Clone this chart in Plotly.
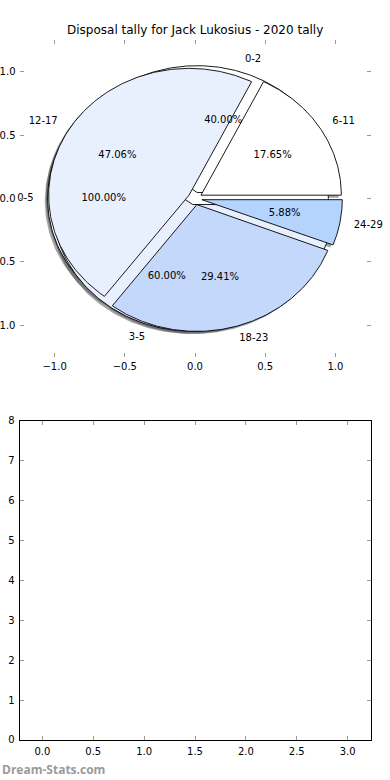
import numpy as np
import plotly.graph_objects as go

# ---------------- data ----------------
chart_title = "Disposal tally for Jack Lukosius - 2020 tally"

# three pie layers, drawn bottom to top
layer1_labels = ["0-5"]
layer1_values = [5]
layer1_colors = ["#ffffff"]

layer2_labels = ["0-2", "3-5"]
layer2_values = [2, 3]
layer2_colors = ["#ffffff", "#e9f0fd"]

layer3_labels = ["6-11", "12-17", "18-23", "24-29"]
layer3_values = [3, 8, 5, 1]
layer3_colors = ["#ffffff", "#e9f0fd", "#c4d8fc", "#b4d4fe"]

pie_ticks = [-1.0, -0.5, 0.0, 0.5, 1.0]
bar_xticks = [0.0, 0.5, 1.0, 1.5, 2.0, 2.5, 3.0]
bar_yticks = [0, 1, 2, 3, 4, 5, 6, 7, 8]
watermark = "Dream-Stats.com"

# ---------------- style ----------------
EXPLODE = 0.05
SHADOW_OFF = -0.02
FONT = "DejaVu Sans"

layers = [
    (layer1_labels, layer1_values, layer1_colors),
    (layer2_labels, layer2_values, layer2_colors),
    (layer3_labels, layer3_values, layer3_colors),
]


def wedge_geometry(values):
    total = float(sum(values))
    start = 0.0
    out = []
    for v in values:
        frac = v / total
        t1, t2 = start, start + 360.0 * frac
        mid = np.deg2rad((t1 + t2) / 2)
        cx, cy = EXPLODE * np.cos(mid), EXPLODE * np.sin(mid)
        arc = np.deg2rad(np.linspace(t1, t2, 240))
        xs = list(cx + np.cos(arc))
        ys = list(cy + np.sin(arc))
        if frac < 0.9999:
            xs = [cx] + xs + [cx]
            ys = [cy] + ys + [cy]
        out.append(dict(xs=xs, ys=ys, cx=cx, cy=cy, mid=mid, frac=frac))
        start = t2
    return out


def shadow_color(hexcol):
    h = hexcol.lstrip("#")
    r, g, b = (int(h[i:i + 2], 16) for i in (0, 2, 4))
    return "rgba(%d,%d,%d,0.5)" % (r * 0.3, g * 0.3, b * 0.3)


fig = go.Figure()

geoms = [wedge_geometry(vals) for _, vals, _ in layers]

# shadows beneath every wedge
for (labels, vals, cols), geo in zip(layers, geoms):
    for g, c in zip(geo, cols):
        fig.add_trace(go.Scatter(
            x=[x + SHADOW_OFF for x in g["xs"]], y=[y + SHADOW_OFF for y in g["ys"]],
            mode="lines", fill="toself", fillcolor=shadow_color(c),
            line=dict(width=0), hoverinfo="skip", showlegend=False,
            xaxis="x", yaxis="y"))

# wedges
for (labels, vals, cols), geo in zip(layers, geoms):
    for g, c, lab in zip(geo, cols, labels):
        fig.add_trace(go.Scatter(
            x=g["xs"], y=g["ys"], mode="lines", fill="toself", fillcolor=c,
            line=dict(color="black", width=0.9), name=lab,
            hoverinfo="name", showlegend=False, xaxis="x", yaxis="y"))

# texts
for (labels, vals, cols), geo in zip(layers, geoms):
    lx, ly, lpos, px, py, ptxt = [], [], [], [], [], []
    for g, lab in zip(geo, labels):
        x = g["cx"] + 1.1 * np.cos(g["mid"])
        y = g["cy"] + 1.1 * np.sin(g["mid"])
        lx.append(x)
        ly.append(y)
        lpos.append("middle right" if x > 0 else "middle left")
        px.append(g["cx"] + 0.6 * np.cos(g["mid"]))
        py.append(g["cy"] + 0.6 * np.sin(g["mid"]))
        ptxt.append("%.2f%%" % (g["frac"] * 100))
    fig.add_trace(go.Scatter(
        x=lx, y=ly, mode="text", text=labels, textposition=lpos,
        textfont=dict(family=FONT, size=10, color="black"), cliponaxis=False,
        hoverinfo="skip", showlegend=False, xaxis="x", yaxis="y"))
    fig.add_trace(go.Scatter(
        x=px, y=py, mode="text", text=ptxt, textposition="middle center",
        textfont=dict(family=FONT, size=10, color="black"), cliponaxis=False,
        hoverinfo="skip", showlegend=False, xaxis="x", yaxis="y"))

# empty lower axes
fig.add_trace(go.Scatter(x=[], y=[], mode="markers", showlegend=False,
                         xaxis="x2", yaxis="y2"))

tick_font = dict(family=FONT, size=10, color="black")
common_tick = dict(ticks="inside", ticklen=4, tickcolor="#9a9a9a", tickwidth=1,
                   showgrid=False, zeroline=False, tickfont=tick_font,
                   fixedrange=True, automargin=False)

fig.update_layout(
    template="none",
    width=390, height=780,
    margin=dict(l=0, r=0, t=0, b=0, pad=0),
    paper_bgcolor="white", plot_bgcolor="white",
    showlegend=False,
    xaxis=dict(domain=[0.05, 0.95], range=[-1.25, 1.25], anchor="y",
               tickvals=pie_ticks, ticktext=["−1.0", "−0.5", "0.0", "0.5", "1.0"],
               showline=False, mirror="ticks", ticklabelstandoff=2, **common_tick),
    yaxis=dict(domain=[0.5423, 0.9487], range=[-1.25, 1.25], anchor="x",
               tickvals=pie_ticks, ticktext=["−1.0", "−0.5", "0.0", "0.5", "1.0"],
               showline=False, mirror="ticks", ticklabelstandoff=3, **common_tick),
    xaxis2=dict(domain=[0.05, 0.95], range=[-0.225, 3.225], anchor="y2",
                tickvals=bar_xticks, ticktext=["%.1f" % v for v in bar_xticks],
                showline=True, linecolor="black", linewidth=1, mirror="ticks",
                ticklabelstandoff=2, **common_tick),
    yaxis2=dict(domain=[0.0513, 0.4603], range=[0, 8], anchor="x2",
                tickvals=bar_yticks, ticktext=[str(v) for v in bar_yticks],
                showline=True, linecolor="black", linewidth=1, mirror="ticks",
                ticklabelstandoff=2, **common_tick),
    annotations=[
        dict(text=chart_title, x=0.5, y=1 - 30 / 780, xref="paper", yref="paper",
             xanchor="center", yanchor="middle", showarrow=False,
             font=dict(family=FONT, size=12, color="black")),
        dict(text="<b>" + watermark + "</b>", x=0.0, y=1 - 769 / 780,
             xref="paper", yref="paper", xanchor="left", yanchor="middle",
             showarrow=False, font=dict(family="Open Sans", size=12, color="#9a9a9a")),
    ],
)

fig.write_html(
    "out.html",
    config={"displayModeBar": False},
    post_script="document.body.style.margin='0';document.body.style.overflow='hidden';",
)
